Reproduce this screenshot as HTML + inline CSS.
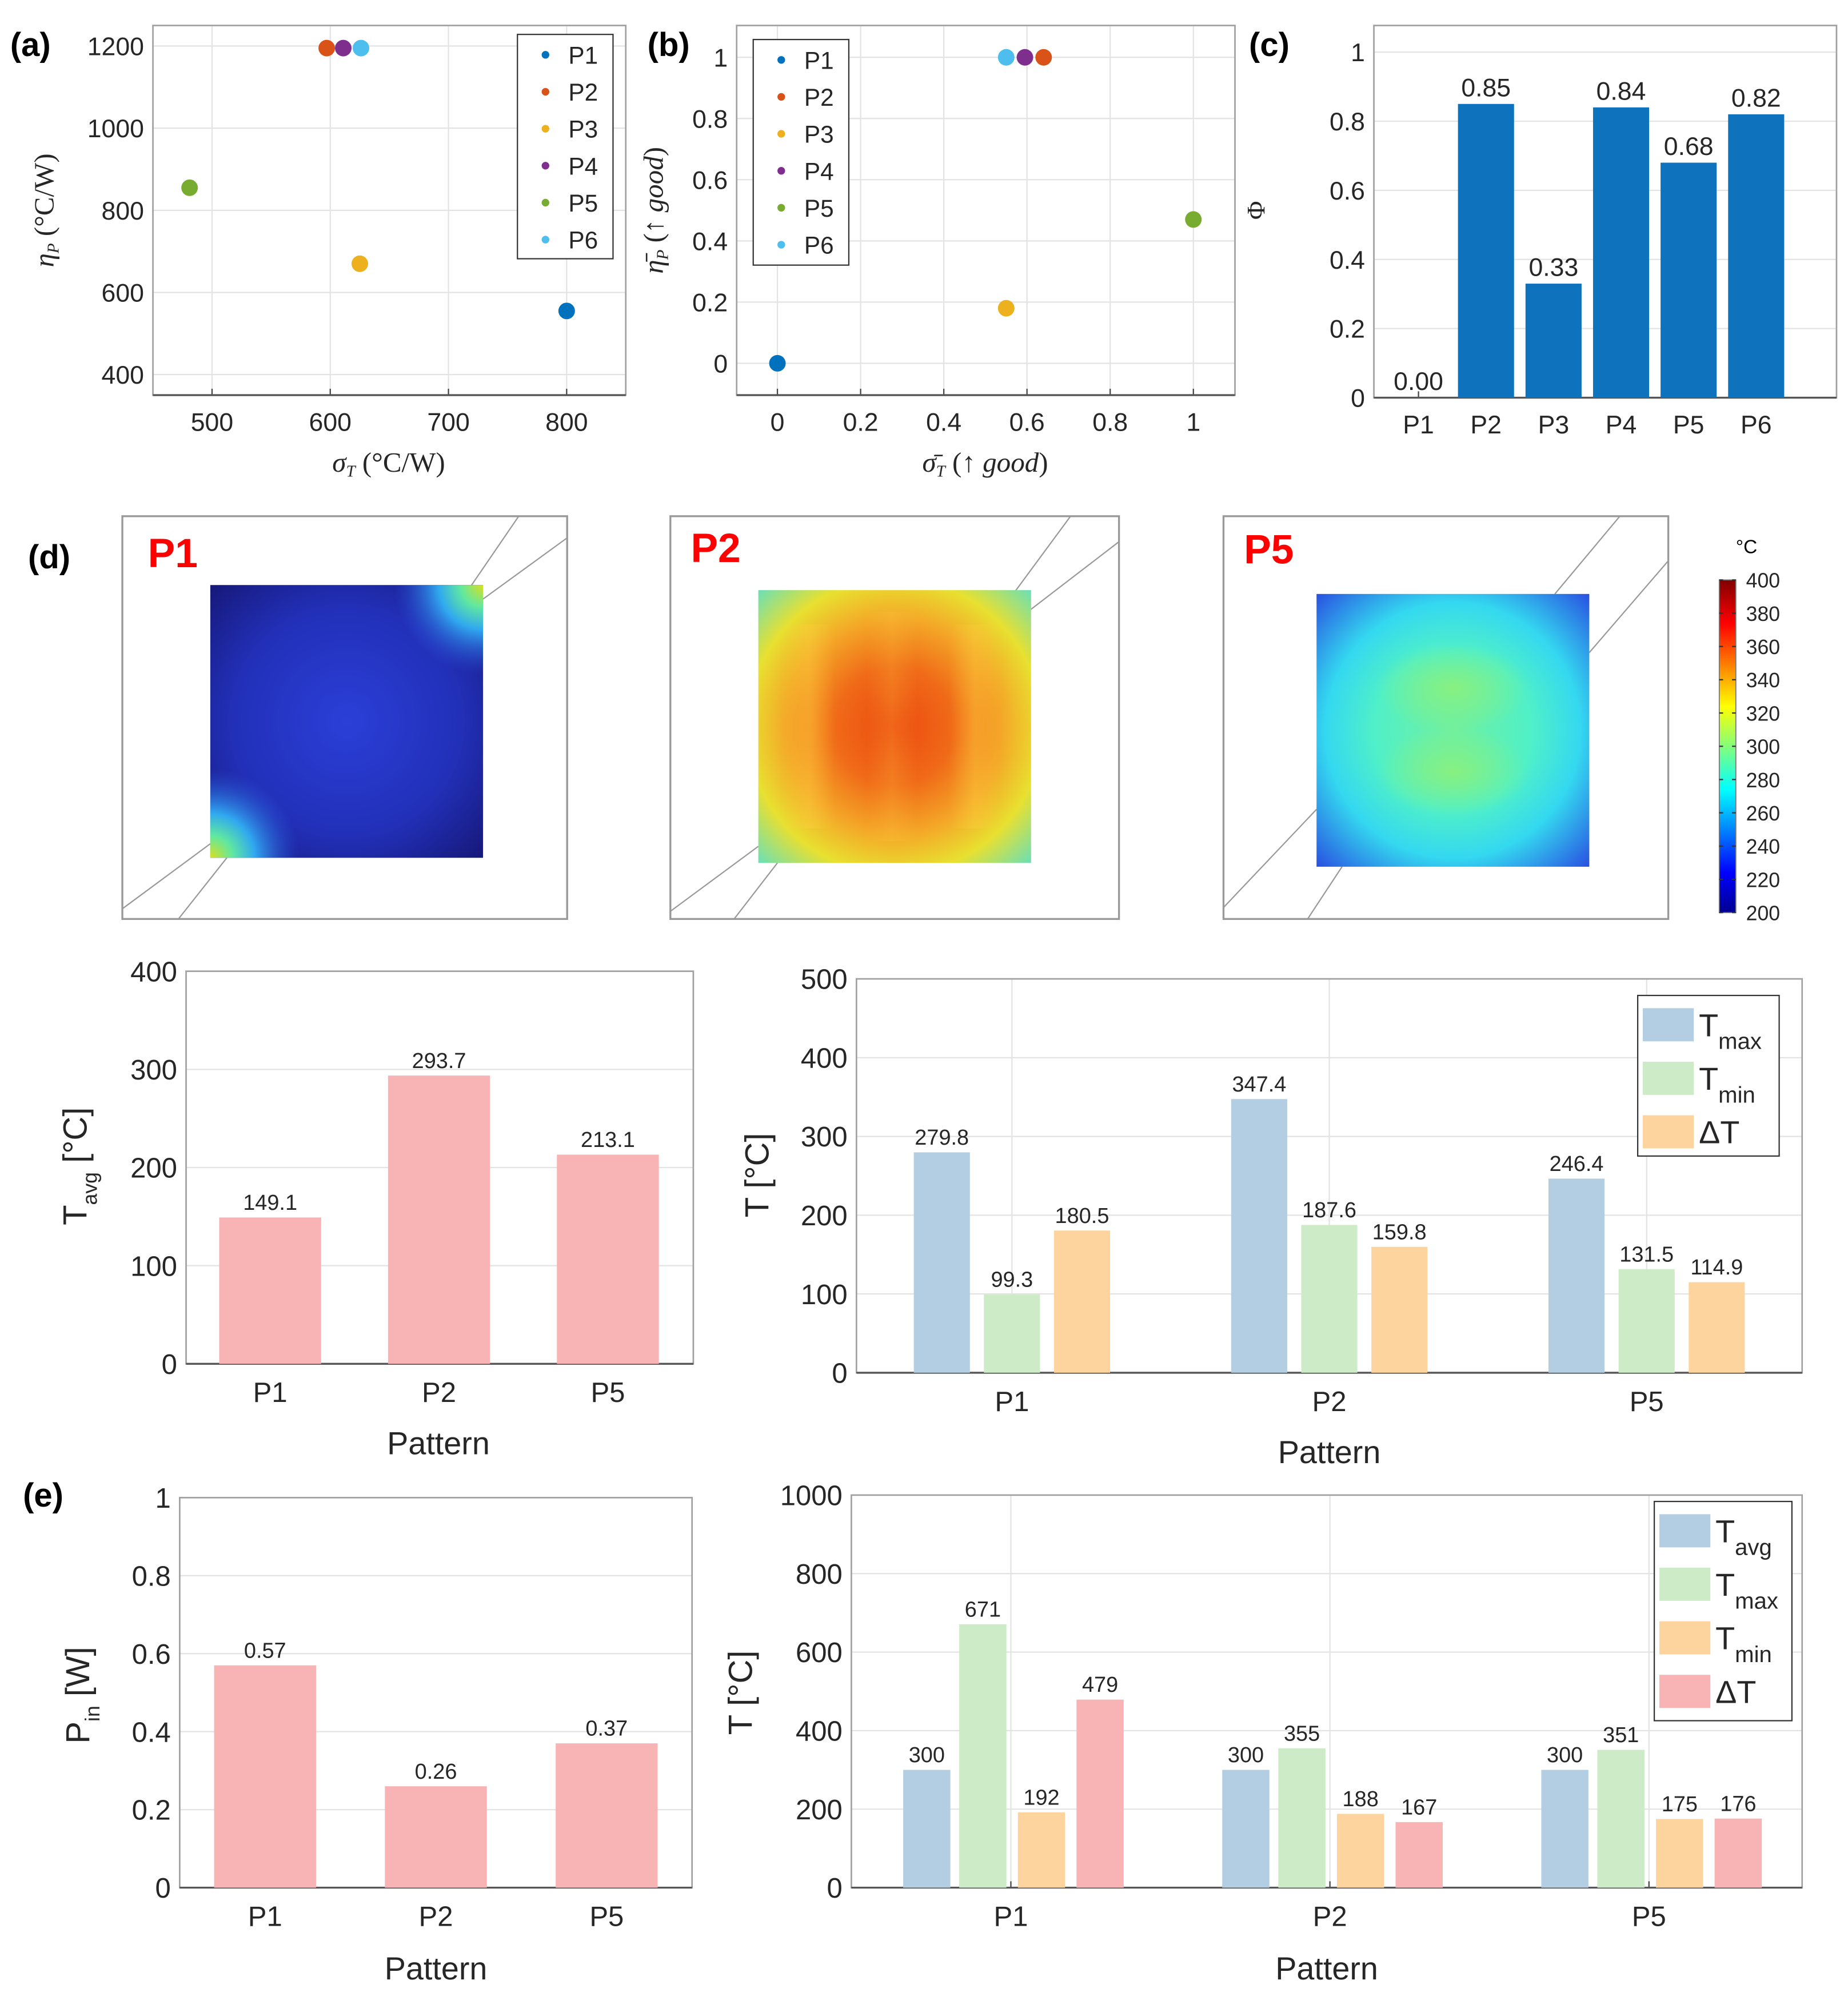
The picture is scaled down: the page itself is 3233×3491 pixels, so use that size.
<!DOCTYPE html>
<html><head><meta charset="utf-8">
<style>
html,body{margin:0;padding:0;background:#fff;}
svg{display:block;font-family:"Liberation Sans",sans-serif;}
</style></head>
<body>
<svg id="fig" xmlns="http://www.w3.org/2000/svg" width="3233" height="3491" viewBox="0 0 1450 1566" preserveAspectRatio="none">
<defs>
<radialGradient id="p1base" cx="50%" cy="50%" r="70%"><stop offset="0" stop-color="#2b3fd8"/><stop offset="0.6" stop-color="#2230b8"/><stop offset="1" stop-color="#16187a"/></radialGradient>
<radialGradient id="p1spot" cx="50%" cy="50%" r="50%"><stop offset="0" stop-color="#d8e020"/><stop offset="0.25" stop-color="#60e8a0"/><stop offset="0.5" stop-color="#30a8f0"/><stop offset="1" stop-color="#2b50e0" stop-opacity="0"/></radialGradient>
<radialGradient id="p2base" cx="50%" cy="50%" r="72%"><stop offset="0" stop-color="#ec4a10"/><stop offset="0.3" stop-color="#f06a18"/><stop offset="0.55" stop-color="#f4a828"/><stop offset="0.75" stop-color="#e8e030"/><stop offset="1" stop-color="#60e0c0"/></radialGradient>
<linearGradient id="p2band" x1="0" y1="0" x2="1" y2="0"><stop offset="0" stop-color="#ffd040" stop-opacity="0"/><stop offset="0.5" stop-color="#ffd040" stop-opacity="0.35"/><stop offset="1" stop-color="#ffd040" stop-opacity="0"/></linearGradient>
<radialGradient id="p5base" cx="50%" cy="50%" r="72%"><stop offset="0" stop-color="#70f0a0"/><stop offset="0.4" stop-color="#50f0c8"/><stop offset="0.65" stop-color="#34d8f0"/><stop offset="1" stop-color="#2848e0"/></radialGradient>
<radialGradient id="p5blob" cx="50%" cy="50%" r="50%"><stop offset="0" stop-color="#88f080"/><stop offset="1" stop-color="#88f080" stop-opacity="0"/></radialGradient>
<linearGradient id="jet" x1="0" y1="1" x2="0" y2="0"><stop offset="0" stop-color="#00008f"/><stop offset="0.12" stop-color="#0000ff"/><stop offset="0.37" stop-color="#00ffff"/><stop offset="0.62" stop-color="#ffff00"/><stop offset="0.87" stop-color="#ff0000"/><stop offset="1" stop-color="#800000"/></linearGradient>
</defs>

<text x="8" y="44" font-size="26" font-weight="bold">(a)</text>
<text x="508" y="44" font-size="26" font-weight="bold">(b)</text>
<text x="980" y="44" font-size="26" font-weight="bold">(c)</text>
<text x="22" y="446" font-size="26" font-weight="bold">(d)</text>
<text x="18" y="1182" font-size="26" font-weight="bold">(e)</text>

<g>
<rect x="96" y="405" width="349" height="316" fill="#fff" stroke="#999" stroke-width="1.5"/>
<line x1="407" y1="405" x2="368" y2="462" stroke="#999"/><line x1="445" y1="422" x2="379" y2="470" stroke="#999"/>
<line x1="96" y1="713" x2="165" y2="662" stroke="#999"/><line x1="140" y1="721" x2="178" y2="673" stroke="#999"/>
<rect x="165" y="459" width="214" height="214" fill="url(#p1base)"/>
<svg x="165" y="459" width="214" height="214"><circle cx="0" cy="214" r="70" fill="url(#p1spot)"/><circle cx="214" cy="0" r="70" fill="url(#p1spot)"/></svg>
<text x="116" y="445" font-size="32" font-weight="bold" fill="#ff0000">P1</text>
</g>
<g>
<rect x="526" y="405" width="352" height="316" fill="#fff" stroke="#999" stroke-width="1.5"/>
<line x1="840" y1="405" x2="795" y2="466" stroke="#999"/><line x1="878" y1="425" x2="809" y2="478" stroke="#999"/>
<line x1="526" y1="715" x2="595" y2="664" stroke="#999"/><line x1="576" y1="721" x2="610" y2="677" stroke="#999"/>
<rect x="595" y="463" width="214" height="214" fill="url(#p2base)"/>
<rect x="615" y="490" width="40" height="160" fill="url(#p2band)"/>
<rect x="680" y="480" width="40" height="180" fill="url(#p2band)" opacity="0.6"/>
<rect x="745" y="490" width="40" height="160" fill="url(#p2band)"/>
<text x="542" y="441" font-size="32" font-weight="bold" fill="#ff0000">P2</text>
</g>
<g>
<rect x="960" y="405" width="349" height="316" fill="#fff" stroke="#999" stroke-width="1.5"/>
<line x1="1271" y1="405" x2="1220" y2="466" stroke="#999"/><line x1="1309" y1="440" x2="1247" y2="512" stroke="#999"/>
<line x1="960" y1="712" x2="1033" y2="635" stroke="#999"/><line x1="1026" y1="721" x2="1053" y2="680" stroke="#999"/>
<rect x="1033" y="466" width="214" height="214" fill="url(#p5base)"/>
<ellipse cx="1140" cy="540" rx="60" ry="35" fill="url(#p5blob)"/>
<ellipse cx="1140" cy="605" rx="60" ry="35" fill="url(#p5blob)"/>
<text x="976" y="442" font-size="32" font-weight="bold" fill="#ff0000">P5</text>
</g>
<g>
<text x="1362" y="434" font-size="15">°C</text>
<rect x="1349" y="455" width="13" height="261" fill="url(#jet)" stroke="#777" stroke-width="0.8"/>
<g id="cbticks"></g>
</g>
</svg>

<script>
const NS='http://www.w3.org/2000/svg';
const svg=document.getElementById('fig');

const patterns6=['P1','P2','P3','P4','P5','P6'];
const colors6=['#0072bd','#d95319','#edb120','#7e2f8e','#77ac30','#4dbeee'];
const aSigma=[800,597,625,611,481,626];
const aEta=[555,1195,670,1195,855,1195];
const aXTicks=[500,600,700,800];
const aYTicks=[400,600,800,1000,1200];
const bSigma=[0,0.64,0.55,0.595,1,0.55];
const bEta=[0,1,0.18,1,0.47,1];
const bXTicks=[0,0.2,0.4,0.6,0.8,1];
const bYTicks=[0,0.2,0.4,0.6,0.8,1];
const cPhi=[0,0.85,0.33,0.84,0.68,0.82];
const cPhiLabels=['0.00','0.85','0.33','0.84','0.68','0.82'];
const cYTicks=[0,0.2,0.4,0.6,0.8,1];
const cbTicks=[200,220,240,260,280,300,320,340,360,380,400];
const patterns3=['P1','P2','P5'];
const tavgValues=[149.1,293.7,213.1];
const tavgTicks=[0,100,200,300,400];
const tmaxValues=[279.8,347.4,246.4];
const tminValues=[99.3,187.6,131.5];
const dTValues=[180.5,159.8,114.9];
const dTicks=[0,100,200,300,400,500];
const pinValues=[0.57,0.26,0.37];
const pinTicks=[0,0.2,0.4,0.6,0.8,1];
const eAvg=[300,300,300];
const eMax=[671,355,351];
const eMin=[192,188,175];
const eDelta=[479,167,176];
const eTicks=[0,200,400,600,800,1000];

function mk(tag,attrs,parent){const e=document.createElementNS(NS,tag);for(const k in attrs)e.setAttribute(k,attrs[k]);(parent||svg).appendChild(e);return e;}
function tx(x,y,s,size,anchor,parent,extra){const e=mk('text',Object.assign({x:x,y:y,'font-size':size,'text-anchor':anchor||'middle',fill:'#262626'},extra||{}),parent);e.textContent=s;return e;}
function fmt(v){return String(+v.toFixed(2));}

function axes(name,x0,y0,x1,y1,xmin,xmax,ymin,ymax,xticks,yticks,fs,xgrid,xlabels){
  const g=mk('g',{});
  
  
  const sx=v=>x0+(v-xmin)/(xmax-xmin)*(x1-x0);
  const sy=v=>y1-(v-ymin)/(ymax-ymin)*(y1-y0);
  mk('rect',{x:x0,y:y0,width:x1-x0,height:y1-y0,fill:'#fff'},g);
  yticks.forEach(t=>{const yy=sy(t);
    const gl=mk('line',{x1:x0,x2:x1,y1:yy,y2:yy,stroke:'#e3e3e3','stroke-width':1},g);
    
    const l=tx(x0-7,yy+fs*0.36,fmt(t),fs,'end',g);
    });
  xticks.forEach((t,i)=>{const xx=sx(t);
    if(xgrid){const gl=mk('line',{x1:xx,x2:xx,y1:y0,y2:y1,stroke:'#e3e3e3','stroke-width':1},g);
      }
    mk('line',{x1:xx,x2:xx,y1:y1,y2:y1-5,stroke:'#444'},g);
    const l=tx(xx,y1+fs+8,xlabels?xlabels[i]:fmt(t),fs,'middle',g);
    });
  const frame=mk('rect',{x:x0,y:y0,width:x1-x0,height:y1-y0,fill:'none',stroke:'#a0a0a0','stroke-width':1.2},g);
  
  mk('line',{x1:x0,x2:x1,y1:y1,y2:y1,stroke:'#555','stroke-width':1.5},g);
  return {sx,sy,g};
}
function ylabel(x,y,s,size,parent,name,extra){const e=tx(x,y,'',size,'middle',parent,Object.assign({transform:`rotate(-90 ${x} ${y})`},extra||{}));e.innerHTML=s;return e;}
function legend(x,y,w,h,labels,cols,dot,step,parent){
  const lg=mk('g',{},parent);
  
  
  mk('rect',{x:x,y:y,width:w,height:h,fill:'#fff',stroke:'#333','stroke-width':1},lg);
  labels.forEach((s,i)=>{const cy=y+16+i*step;
    mk('circle',{cx:x+22,cy:cy,r:dot,fill:cols[i]},lg);
    const t=tx(x+40,cy+7,s,19,'start',lg);
    });
}

{const A=axes('scatter-a',120,20,491,310,450,850,350,1250,aXTicks,aYTicks,20,true);
 aSigma.forEach((v,i)=>{const c=mk('circle',{cx:A.sx(v),cy:A.sy(aEta[i]),r:6.5,fill:colors6[i]},A.g);
   });
 legend(406,27,75,176,patterns6,colors6,3,29,A.g);
 ylabel(42,165,'<tspan font-style="italic">η<tspan font-size="13" dy="4">P</tspan></tspan><tspan dy="-4"> (°C/W)</tspan>',22,A.g,'y-axis-title',{'font-family':'Liberation Serif'});
 const xl=tx(305,370,'',22,'middle',A.g,{'font-family':'Liberation Serif'});xl.innerHTML='<tspan font-style="italic">σ<tspan font-size="13" dy="4">T</tspan></tspan><tspan dy="-4"> (°C/W)</tspan>';
 }

{const B=axes('scatter-b',578,20,969,310,-0.098,1.1,-0.104,1.104,bXTicks,bYTicks,20,true);
 bSigma.forEach((v,i)=>{const c=mk('circle',{cx:B.sx(v),cy:B.sy(bEta[i]),r:6.5,fill:colors6[i]},B.g);
   });
 legend(591,31,75,177,patterns6,colors6,3,29,B.g);
 ylabel(520,165,'<tspan font-style="italic">η̄<tspan font-size="13" dy="4">P</tspan></tspan><tspan dy="-4">  (↑ </tspan><tspan font-style="italic">good</tspan>)',22,B.g,'y-axis-title',{'font-family':'Liberation Serif'});
 const xl=tx(773,370,'',22,'middle',B.g,{'font-family':'Liberation Serif'});xl.innerHTML='<tspan font-style="italic">σ̄<tspan font-size="13" dy="4">T</tspan></tspan><tspan dy="-4">  (↑ </tspan><tspan font-style="italic">good</tspan>)';
 }

{const idx=patterns6.map((p,i)=>i+1);
 const C=axes('bar-chart-c',1078,20,1441,312,0.34,7.19,0,1.077,idx,cYTicks,20,false,patterns6);
 cPhi.forEach((v,i)=>{const xc=C.sx(i+1);
   const r=mk('rect',{x:xc-22,y:C.sy(v),width:44,height:C.sy(0)-C.sy(v),fill:'#0e72bd'},C.g);
   
   const t=tx(xc,C.sy(v)-6,cPhiLabels[i],20,'middle',C.g);
   });
 ylabel(992,165,'Φ',20,C.g,'y-axis-title',{'font-family':'Liberation Serif'});}

{const g=document.getElementById('cbticks');
 cbTicks.forEach(t=>{const y=716-(t-200)/200*261;
   mk('line',{x1:1349,x2:1352,y1:y,y2:y,stroke:'#333'},g);mk('line',{x1:1359,x2:1362,y1:y,y2:y,stroke:'#333'},g);
   const l=tx(1370,y+6,String(t),16,'start',g);
   });}

function groupedBars(A,groups,series,cols,offsets,bw,labelFmt,fs){
  groups.forEach((p,gi)=>{series.forEach((vals,si)=>{
    const xc=A.sx(gi+1)+offsets[si];const v=vals[gi];
    const r=mk('rect',{x:xc-bw/2,y:A.sy(v),width:bw,height:A.sy(0)-A.sy(v),fill:cols[si]},A.g);
    
    const t=tx(xc,A.sy(v)-6,labelFmt(v),fs,'middle',A.g);
    });});
}
function boxLegend(x,y,w,h,names,cols,parent){
  const lg=mk('g',{},parent);
  
  
  mk('rect',{x:x,y:y,width:w,height:h,fill:'#fff',stroke:'#333','stroke-width':1},lg);
  names.forEach((n,i)=>{const yy=y+10+i*42;
    mk('rect',{x:x+4,y:yy,width:40,height:26,fill:cols[i]},lg);
    const t=tx(x+48,yy+22,'',25,'start',lg);t.innerHTML=n;
    });
}
const idx3=[1,2,3];

{const A=axes('bar-chart-tavg',146,762,544,1070,0.502,3.506,0,400,idx3,tavgTicks,22,false,patterns3);
 groupedBars(A,patterns3,[tavgValues],['#f8b4b4'],[0],80,v=>v.toFixed(1),17);
 ylabel(68,915,'T<tspan font-size="16" dy="8">avg</tspan><tspan dy="-8"> [°C]</tspan>',26,A.g,'y-axis-title');
 const x=tx(344,1141,'Pattern',25,'middle',A.g);}

{const A=axes('bar-chart-tmax-tmin',672,768,1414,1077,0.51,3.49,0,500,idx3,dTicks,22,true,patterns3);
 groupedBars(A,patterns3,[tmaxValues,tminValues,dTValues],['#b3cde3','#cdebc6','#fdd49e'],[-55,0,55],44,v=>v.toFixed(1),17);
 boxLegend(1285,781,111,126,['T<tspan font-size="18" dy="10">max</tspan>','T<tspan font-size="18" dy="10">min</tspan>','ΔT'],['#b3cde3','#cdebc6','#fdd49e'],A.g);
 ylabel(603,922,'T [°C]',26,A.g,'y-axis-title');
 const x=tx(1043,1148,'Pattern',25,'middle',A.g);}

{const A=axes('bar-chart-pin',141,1175,543,1481,0.5,3.5,0,1,idx3,pinTicks,22,false,patterns3);
 groupedBars(A,patterns3,[pinValues],['#f8b4b4'],[0],80,v=>v.toFixed(2),17);
 ylabel(70,1330,'P<tspan font-size="16" dy="8">in</tspan><tspan dy="-8"> [W]</tspan>',26,A.g,'y-axis-title');
 const x=tx(342,1553,'Pattern',25,'middle',A.g);}

{const A=axes('bar-chart-t-four',668,1173,1414,1481,0.5,3.48,0,1000,idx3,eTicks,22,true,patterns3);
 groupedBars(A,patterns3,[eAvg,eMax,eMin,eDelta],['#b3cde3','#cdebc6','#fdd49e','#f8b4b4'],[-66,-22,24,70],37,v=>String(Math.round(v)),17);
 boxLegend(1298,1178,108,172,['T<tspan font-size="18" dy="10">avg</tspan>','T<tspan font-size="18" dy="10">max</tspan>','T<tspan font-size="18" dy="10">min</tspan>','ΔT'],['#b3cde3','#cdebc6','#fdd49e','#f8b4b4'],A.g);
 ylabel(590,1328,'T [°C]',26,A.g,'y-axis-title');
 const x=tx(1041,1553,'Pattern',25,'middle',A.g);}
</script>
</body></html>
